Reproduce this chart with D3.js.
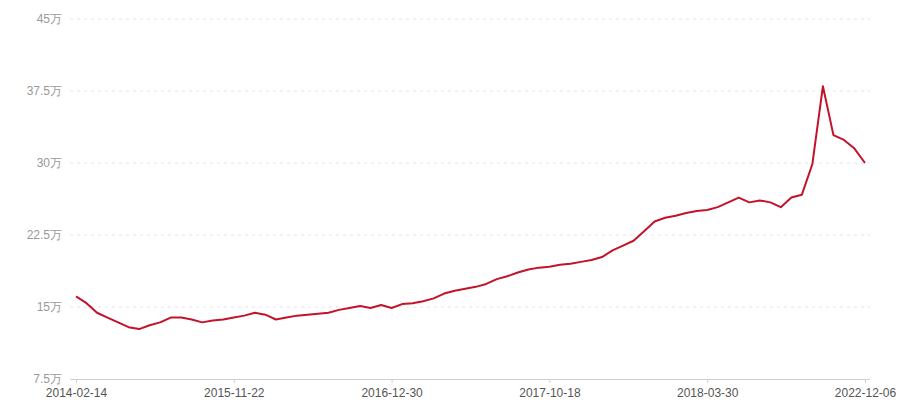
<!DOCTYPE html>
<html lang="zh">
<head>
    <meta charset="UTF-8">
    <title>价格走势</title>
    <script src="https://d3js.org/d3.v7.min.js"></script>
    <style>
        body { margin: 0; background: #fff; }
        svg { display: block; font-family: "Noto Sans CJK SC", "Noto Sans", sans-serif; }
        .grid line { stroke: #e6e6e6; stroke-dasharray: 3,4; }
        .line { fill: none; stroke: #c3132b; stroke-width: 2px; stroke-linejoin: round; }
    </style>
</head>
<body>
    <svg width="900" height="400"></svg>

    <script>
        // 单位：万
        const values = [
            16.1, 15.4, 14.4, 13.9, 13.4, 12.9, 12.7, 13.1, 13.4, 13.9,
            13.9, 13.7, 13.4, 13.6, 13.7, 13.9, 14.1, 14.4, 14.2, 13.7,
            13.9, 14.1, 14.2, 14.3, 14.4, 14.7, 14.9, 15.1, 14.9, 15.2,
            14.9, 15.3, 15.4, 15.6, 15.9, 16.4, 16.7, 16.9, 17.1, 17.4,
            17.9, 18.2, 18.6, 18.9, 19.1, 19.2, 19.4, 19.5, 19.7, 19.9,
            20.2, 20.9, 21.4, 21.9, 22.9, 23.9, 24.3, 24.5, 24.8, 25.0,
            25.1, 25.4, 25.9, 26.4, 25.9, 26.1, 25.9, 25.4, 26.4, 26.7,
            29.9, 38.0, 32.9, 32.4, 31.5, 30.0
        ];
        const tickIndex = [0, 15, 30, 45, 60, 75];
        const tickLabels = ["2014-02-14", "2015-11-22", "2016-12-30", "2017-10-18", "2018-03-30", "2022-12-06"];
        const yTicks = [7.5, 15, 22.5, 30, 37.5, 45];

        const svg = d3.select("svg");
        const plotLeft = 76, plotRight = 865, plotTop = 19, plotBottom = 379;

        const x = d3.scaleLinear().domain([0, values.length - 1]).range([plotLeft, plotRight]);
        const y = d3.scaleLinear().domain([7.5, 45]).range([plotBottom, plotTop]);

        // 网格线
        svg.append("g")
            .attr("class", "grid")
            .selectAll("line")
            .data(yTicks.slice(1))
            .enter()
            .append("line")
            .attr("x1", 70)
            .attr("x2", 870)
            .attr("y1", d => y(d))
            .attr("y2", d => y(d));

        // Y 轴标签
        const yAxis = svg.append("g")
            .attr("transform", "translate(70,0)")
            .call(d3.axisLeft(y).tickValues(yTicks).tickSize(0).tickPadding(8)
                .tickFormat(d => d + "万"));
        yAxis.select(".domain").remove();
        yAxis.selectAll("text").attr("fill", "#999").style("font-size", "12px");

        // X 轴
        const labelMap = new Map(tickIndex.map((d, i) => [d, tickLabels[i]]));
        const xAxis = svg.append("g")
            .attr("transform", `translate(0,${plotBottom})`)
            .call(d3.axisBottom(x).tickValues(tickIndex).tickSize(4).tickSizeOuter(0)
                .tickPadding(5).tickFormat(d => labelMap.get(d)));
        xAxis.select(".domain").attr("d", "M70,0.5H870").attr("stroke", "#d0d0d0");
        xAxis.selectAll(".tick line").attr("stroke", "#d0d0d0");
        xAxis.selectAll("text").attr("fill", "#555").style("font-size", "12px");

        // 折线
        const line = d3.line()
            .x((d, i) => x(i))
            .y(d => y(d));

        svg.append("path")
            .datum(values)
            .attr("class", "line")
            .attr("d", line);
    </script>
</body>
</html>
